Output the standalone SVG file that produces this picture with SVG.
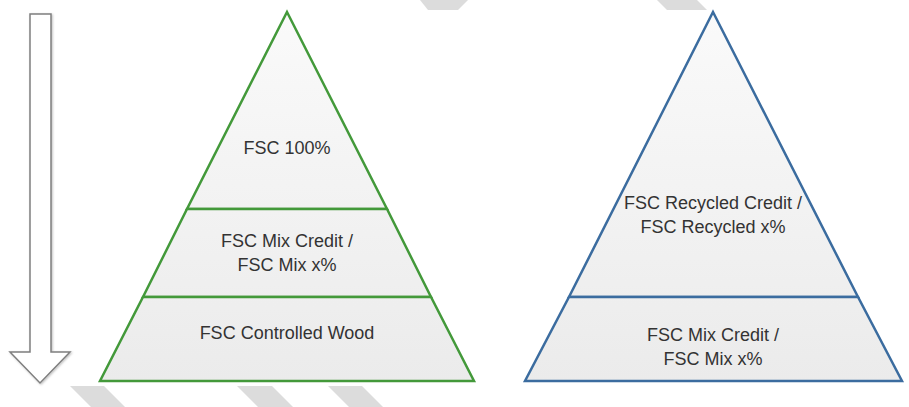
<svg xmlns="http://www.w3.org/2000/svg" width="909" height="407" viewBox="0 0 909 407">
  <defs>
    <linearGradient id="fillG" gradientUnits="userSpaceOnUse" x1="0" y1="12" x2="0" y2="381">
      <stop offset="0" stop-color="#fafafa"/>
      <stop offset="1" stop-color="#ebebeb"/>
    </linearGradient>
    <filter id="sh" x="-20%" y="-5%" width="140%" height="110%">
      <feDropShadow dx="1" dy="1" stdDeviation="1" flood-color="#000" flood-opacity="0.25"/>
    </filter>
  </defs>
  <style>
    .stripe { fill: #dcdcdc; }
    .green { fill: url(#fillG); stroke: #43993a; stroke-width: 2.5; stroke-linejoin: miter; }
    .blue { fill: url(#fillG); stroke: #3b6c9f; stroke-width: 2.5; stroke-linejoin: miter; }
    .lbl { font-family: "Liberation Sans", Arial, sans-serif; font-size: 18px; fill: #333333; text-anchor: middle; }
    .arrow { fill: #ffffff; stroke: #7f7f7f; stroke-width: 1.5; }
  </style>
  <rect width="909" height="407" fill="#ffffff"/>

  <g id="stripes">
    <polygon class="stripe" points="70,386 104,386 125,407 91,407"/>
    <polygon class="stripe" points="237,386 272,386 293,407 258,407"/>
    <polygon class="stripe" points="328,386 362,386 383,407 349,407"/>
    <polygon class="stripe" points="420,0 468,0 458,10 428,10"/>
    <polygon class="stripe" points="657,0 697,0 707,10 667,10"/>
  </g>

  <g id="arrow">
    <path class="arrow" filter="url(#sh)" d="M30,14 H51 V352 H70 L40,383 L10,352 H30 Z"/>
  </g>

  <g id="fsc100">
    <polygon class="green" points="287,12 387,209 187,209"/>
    <text class="lbl" x="287" y="154">FSC 100%</text>
  </g>
  <g id="fscMixLeft">
    <polygon class="green" points="187,209 387,209 431,297 143,297"/>
    <text class="lbl" x="287" y="247">FSC Mix Credit /</text>
    <text class="lbl" x="287" y="271">FSC Mix x%</text>
  </g>
  <g id="fscControlledWood">
    <polygon class="green" points="143,297 431,297 474,381 100,381"/>
    <text class="lbl" x="287" y="339">FSC Controlled Wood</text>
  </g>

  <g id="fscRecycled">
    <polygon class="blue" points="713,12 858,297 569,297"/>
    <text class="lbl" x="713" y="209">FSC Recycled Credit /</text>
    <text class="lbl" x="713" y="233">FSC Recycled x%</text>
  </g>
  <g id="fscMixRight">
    <polygon class="blue" points="569,297 858,297 902,381 525,381"/>
    <text class="lbl" x="713" y="341">FSC Mix Credit /</text>
    <text class="lbl" x="713" y="365">FSC Mix x%</text>
  </g>

  <g id="connectors"/>
</svg>
